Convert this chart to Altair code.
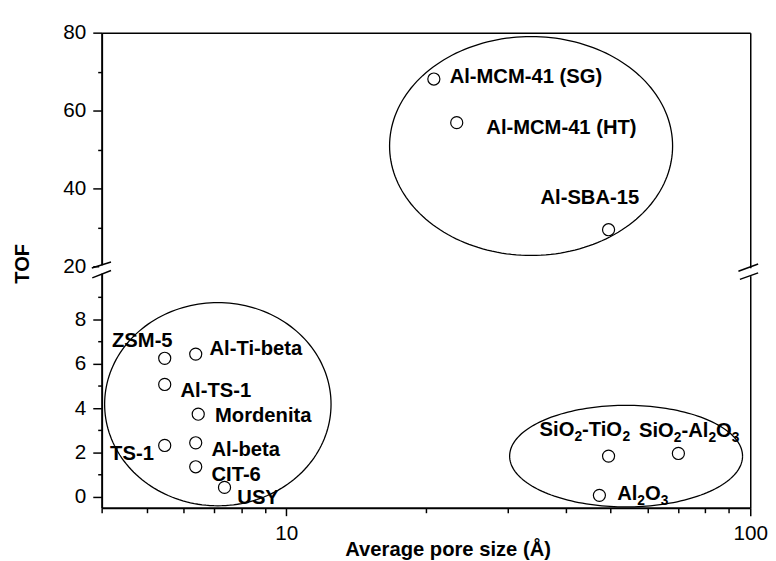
import numpy as np
import pandas as pd
import altair as alt

# ---------------- data ----------------
materials = ["ZSM-5", "Al-Ti-beta", "Al-TS-1", "Mordenita", "TS-1", "Al-beta", "CIT-6", "USY",
             "Al-MCM-41 (SG)", "Al-MCM-41 (HT)", "Al-SBA-15",
             "SiO2-TiO2", "SiO2-Al2O3", "Al2O3"]
pore_size = [5.47, 6.38, 5.47, 6.46, 5.47, 6.38, 6.38, 7.36,
             20.8, 23.3, 49.5,
             49.5, 70.0, 47.3]
tof = [6.25, 6.44, 5.07, 3.73, 2.32, 2.44, 1.36, 0.43,
       68.1, 56.9, 29.4,
       1.84, 1.96, 0.07]

# grouping ellipses (centre in Å / TOF, half-width in decades of pore size, half-height in TOF)
ellipse_group = ["zeolites", "mesoporous", "amorphous"]
ellipse_center_pore = [7.12, 33.7, 54.0]
ellipse_half_width_dec = [0.244, 0.305, 0.251]
ellipse_center_tof = [4.18, 50.9, 1.84]
ellipse_half_height = [4.58, 28.1, 2.29]

y_major_top = [20, 40, 60, 80]
y_minor_top = [30, 50, 70]
y_major_bottom = [0, 2, 4, 6, 8]
y_minor_bottom = [1, 3, 5, 7, 9]
x_major = [10, 100]
x_minor = [4, 5, 6, 7, 8, 9, 20, 30, 40, 50, 60, 70, 80, 90]

# ---------------- styling / layout ----------------
FONT = "Liberation Sans"
LABEL_SIZE = 20.5
SUB_SIZE = 14
W, H = 658, 241
TOP_DOMAIN = [19, 80]
BOTTOM_DOMAIN = [-0.49, 10.22]
BREAK = 15  # TOF values above this go in the upper panel

# label placement: (align, dx, dy) in pixels relative to the point
label_style = {
    "ZSM-5": ("right", 8, -17),
    "Al-Ti-beta": ("left", 14, -5),
    "Al-TS-1": ("left", 16, 7),
    "Mordenita": ("left", 17, 2),
    "TS-1": ("right", -11, 9),
    "Al-beta": ("left", 16, 7),
    "CIT-6": ("left", 16, 8),
    "USY": ("left", 13, 11),
    "Al-MCM-41 (SG)": ("left", 16, -2),
    "Al-MCM-41 (HT)": ("left", 30, 6),
    "Al-SBA-15": ("center", -19, -32),
}
# chemical formulas drawn piecewise with real subscripts: (start dx, dy, segments)
formula_style = {
    "SiO2-TiO2": (-70, -26, [("SiO", 0), ("2", 1), ("-TiO", 0), ("2", 1)]),
    "SiO2-Al2O3": (-40, -23, [("SiO", 0), ("2", 1), ("-Al", 0), ("2", 1), ("O", 0), ("3", 1)]),
    "Al2O3": (18, -1, [("Al", 0), ("2", 1), ("O", 0), ("3", 1)]),
}
# Arial/Liberation Sans Bold advance widths (per 1000 em) for the formula glyphs
ADV = {"S": 667, "i": 278, "O": 778, "-": 333, "T": 611, "A": 722, "l": 278,
       "2": 556, "3": 556}

pts = pd.DataFrame({"name": materials, "pore": pore_size, "tof": tof})

rows = []
t = np.linspace(0, 2 * np.pi, 181)
for g, cx, rx, cy, ry in zip(ellipse_group, ellipse_center_pore, ellipse_half_width_dec,
                             ellipse_center_tof, ellipse_half_height):
    for i, a in enumerate(t):
        rows.append({"group": g, "i": i,
                     "px": 10 ** (np.log10(cx) + rx * np.cos(a)),
                     "py": cy + ry * np.sin(a)})
ell = pd.DataFrame(rows)

xscale = alt.Scale(type="log", domain=[4, 100], nice=False)


def axis_common(**kw):
    base = dict(grid=False, labelFont=FONT, labelFontSize=21, labelColor="black",
                tickColor="black", domainColor="black", labelFlush=False,
                titleFont=FONT, titleColor="black", titleFontWeight="bold")
    base.update(kw)
    return alt.Axis(**base)


def panel(is_top):
    ydom = TOP_DOMAIN if is_top else BOTTOM_DOMAIN
    yscale = alt.Scale(domain=ydom, nice=False, zero=False)
    p = pts[pts.tof > BREAK] if is_top else pts[pts.tof <= BREAK]
    e = ell[ell.group == "mesoporous"] if is_top else ell[ell.group != "mesoporous"]

    if is_top:
        x_ax1 = axis_common(orient="top", values=x_minor, labels=False, ticks=False,
                            domainWidth=1.5, title=None)
        y_ax1 = axis_common(orient="left", values=y_major_top, tickSize=9, tickWidth=1.5,
                            labelPadding=7, domainWidth=2, title=None)
        x_ax2 = None
        y_ax2 = axis_common(orient="left", values=y_minor_top, tickSize=4, tickWidth=1.5,
                            labels=False, domain=False, title=None)
    else:
        x_ax1 = axis_common(orient="bottom", values=x_major, tickSize=8, tickWidth=1.5,
                            labelPadding=7, domainWidth=2, format="~g",
                            title="Average pore size (Å)", titleFontSize=20.5,
                            titleX=351, titleY=48, titleAlign="center",
                            titleBaseline="alphabetic")
        y_ax1 = axis_common(orient="left", values=y_major_bottom, tickSize=9, tickWidth=1.5,
                            labelPadding=7, domainWidth=2,
                            title="TOF", titleFontSize=20.5, titleX=-80, titleY=-7,
                            titleAngle=270, titleAlign="center", titleBaseline="middle")
        x_ax2 = axis_common(orient="bottom", values=x_minor, tickSize=5, tickWidth=1.5,
                            labels=False, domain=False, title=None)
        y_ax2 = axis_common(orient="left", values=y_minor_bottom, tickSize=4, tickWidth=1.5,
                            labels=False, domain=False, title=None)

    layers = []
    layers.append(
        alt.Chart(e).mark_line(color="black", strokeWidth=1.3).encode(
            x=alt.X("px:Q", scale=xscale, axis=x_ax1),
            y=alt.Y("py:Q", scale=yscale, axis=y_ax1),
            detail="group:N",
            order="i:Q",
        )
    )
    layers.append(
        alt.Chart(p).mark_point(shape="circle", filled=True, fill="white", stroke="black",
                                strokeWidth=1.2, size=150, opacity=1).encode(
            x=alt.X("pore:Q", scale=xscale, axis=x_ax2),
            y=alt.Y("tof:Q", scale=yscale, axis=y_ax2),
        )
    )
    first = True
    for name in p["name"]:
        row = p[p.name == name]
        yax = axis_common(orient="right", labels=False, ticks=False, domainWidth=1.5,
                          title=None) if first else None
        first = False
        if name in label_style:
            align, dx, dy = label_style[name]
            layers.append(
                alt.Chart(row).mark_text(
                    align=align, baseline="middle", dx=dx, dy=dy, font=FONT,
                    fontSize=LABEL_SIZE, fontWeight="bold", color="black").encode(
                    x=alt.X("pore:Q", scale=xscale, axis=None),
                    y=alt.Y("tof:Q", scale=yscale, axis=yax),
                    text="name:N",
                )
            )
        else:
            x0, dy, segs = formula_style[name]
            cur = x0
            for seg, is_sub in segs:
                size = SUB_SIZE if is_sub else LABEL_SIZE
                layers.append(
                    alt.Chart(row).mark_text(
                        align="left", baseline="middle", dx=cur,
                        dy=dy + (7 if is_sub else 0), font=FONT, fontSize=size,
                        fontWeight="bold", color="black", text=seg).encode(
                        x=alt.X("pore:Q", scale=xscale, axis=None),
                        y=alt.Y("tof:Q", scale=yscale, axis=yax),
                    )
                )
                yax = None
                cur += sum(ADV[c] for c in seg) / 1000 * size

    if not is_top:
        one = pd.DataFrame({"k": [0]})
        # axis-break decorations (pixel positions relative to the panel's top edge)
        gaps = [(0, -5, 3.5), (W, -2, 6)]
        for gx, gy1, gy2 in gaps:
            layers.append(alt.Chart(one).mark_rule(color="white", strokeWidth=5).encode(
                x=alt.value(gx), y=alt.value(gy1), y2=alt.value(gy2)))
        slashes = [(-10, -2.3, 9.5, -8.3), (-9.5, 7.7, 9.5, 0.3),
                   (W - 12, 1, W + 8, -6.3), (W - 10.5, 9.3, W + 8, 2.7)]
        for x1, y1, x2, y2 in slashes:
            layers.append(alt.Chart(one).mark_rule(color="black", strokeWidth=1.5).encode(
                x=alt.value(x1), x2=alt.value(x2), y=alt.value(y1), y2=alt.value(y2)))

    return alt.layer(*layers).resolve_axis(x="independent", y="independent").properties(
        width=W, height=H)


chart = alt.vconcat(panel(True), panel(False), spacing=0, bounds="flush").properties(
    padding={"left": 5, "top": 10, "right": 0, "bottom": 0},
    background="white",
).configure_view(stroke=None)

chart.save("out.html", embed_options={"renderer": "svg", "actions": False})
